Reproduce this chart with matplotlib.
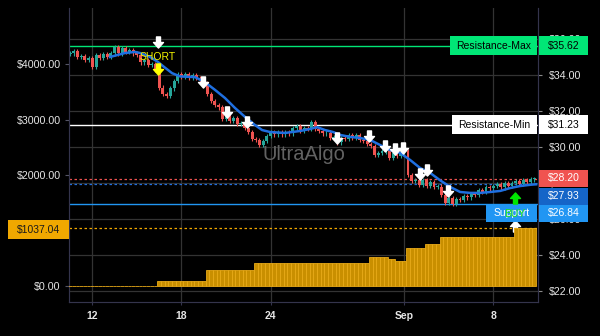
import numpy as np
import matplotlib
matplotlib.use('Agg')
import matplotlib.pyplot as plt
from matplotlib.patches import Rectangle
from matplotlib.path import Path

plt.rcParams['font.family'] = ['Liberation Sans', 'DejaVu Sans']

# closing prices, 6h bars
closes = [35.2, 35.35, 35.0, 35.05, 34.85, 34.95, 34.45, 35.1, 34.95, 35.15,
          35.0, 35.2, 35.55, 35.2, 35.5, 35.3, 35.4, 35.2, 35.1, 34.7,
          34.85, 34.55, 34.6, 34.3, 33.3, 32.95, 32.85, 33.25, 33.65, 34.05,
          33.9, 34.05, 33.85, 34.0, 33.85, 33.7, 33.55, 32.95, 32.55, 32.35,
          32.2, 31.55, 31.7, 31.45, 31.6, 31.3, 31.35, 31.05, 30.85, 30.45,
          30.4, 30.1, 30.35, 30.6, 30.85, 30.7, 30.85, 30.7, 30.85, 30.75,
          31.05, 31.15, 30.9, 31.05, 31.0, 31.4, 31.0, 30.9, 30.75, 30.8,
          30.5, 30.55, 30.25, 30.5, 30.45, 30.65, 30.5, 30.65, 30.4, 30.35,
          30.15, 30.05, 29.55, 29.65, 29.75, 29.85, 29.4, 29.65, 29.5, 29.7,
          29.75, 28.45, 28.1, 28.15, 27.9, 28.15, 27.85, 28.05, 27.8, 27.8,
          27.35, 26.9, 27.15, 26.85, 27.1, 27.05, 27.25, 27.2, 27.4, 27.35,
          27.6, 27.5, 27.75, 27.7, 27.85, 27.95, 27.75, 28.0, 27.85, 28.0,
          28.1, 27.95, 28.15, 28.05, 28.2, 28.2]
first_open = 35.15

ema_days = [1.19, 2.20, 2.88, 3.21, 3.89, 4.42, 4.90, 5.37, 5.91, 6.92,
            7.58, 8.26, 8.93, 9.60, 10.28, 10.95, 11.43, 11.97, 12.98, 13.99,
            14.66, 15.13, 15.67, 16.21, 16.68, 17.35, 18.03, 18.70, 19.37, 20.05,
            20.72, 21.39, 22.07, 22.74, 23.41, 24.09, 24.76, 25.43, 26.11, 26.78,
            27.46, 28.13, 28.79, 29.47, 29.88]
ema_vals = [35.0, 35.22, 35.28, 35.22, 35.0, 34.72, 34.4, 34.1, 33.92, 33.88,
            33.6, 33.17, 32.72, 32.17, 31.67, 31.22, 30.94, 30.83, 30.78, 30.89,
            31.0, 31.1, 30.94, 30.83, 30.67, 30.56, 30.5, 30.39, 30.11, 29.83,
            29.67, 29.28, 28.83, 28.56, 28.15, 27.78, 27.5, 27.45, 27.45, 27.5,
            27.56, 27.72, 27.83, 27.9, 27.93]

# equity steps (value, number of bars it holds)
vol_levels = [0, 90, 285, 410, 520, 480, 445, 680, 750, 875, 1037.04]
vol_counts = [24, 13, 13, 31, 5, 2, 3, 5, 4, 20, 6]

res_max = 35.62
res_min = 31.23
support = 26.84
last_price = 28.20
ema_last = 27.93
vol_last = 1037.04

sell_days = [4.42, 7.45, 9.07, 10.42, 16.48, 18.63, 19.71, 20.39, 20.93, 22.07, 22.54, 23.95]
sell_prices = [35.81, 33.61, 31.94, 31.39, 30.5, 30.61, 30.06, 29.89, 29.94, 28.5, 28.72, 27.56]
short_day, short_price = 4.42, 34.33
buy_day, buy_price = 28.46, 27.17
exit_day, exit_price = 28.46, 25.61

tick_pos = [0, 6, 12, 21, 27]
tick_labels = ['12', '18', '24', 'Sep', '8']
price_ticks = [22, 24, 26, 28, 30, 32, 34, 36]
vol_ticks = [0, 2000, 3000, 4000]

W, H = 600, 336
BG = '#000000'
GRID = '#333333'
SPINE = '#34344c'
TXT = '#e6e6e6'
UP = '#26a69a'
DOWN = '#ef5350'

fig = plt.figure(figsize=(W / 100, H / 100), dpi=100, facecolor=BG)
ax = fig.add_axes([69 / W, 34 / H, 469 / W, 294 / H], facecolor=BG)
ax2 = ax.twinx()

# price axis shown on the right, equity axis on the left
ax.yaxis.tick_right()
ax2.yaxis.tick_left()
ax.set_xlim(-1.57, 30.0)
ax.set_ylim(21.39, 37.72)
ax2.set_ylim(-288, 5009)

for a in (ax, ax2):
    a.spines['top'].set_visible(False)
    for s in ('left', 'right', 'bottom'):
        a.spines[s].set_color(SPINE)

ax.set_xticks(tick_pos)
ax.set_xticklabels(tick_labels, fontsize=7.5, fontweight='bold', color=TXT)
ax.tick_params(axis='x', length=2.5, pad=4, color=SPINE)
ax.set_yticks(price_ticks)
ax.set_yticklabels(['$%.2f' % v for v in price_ticks], fontsize=7.7, color=TXT)
ax.tick_params(axis='y', length=3, pad=5, color='#888888')
ax.grid(True, color=GRID, lw=0.9)
ax.set_axisbelow(True)

ax2.set_yticks(vol_ticks)
ax2.set_yticklabels(['$%.2f' % v for v in vol_ticks], fontsize=7.7, color=TXT)
ax2.tick_params(axis='y', length=3, pad=3, color='#555566')

# candles
closes = np.array(closes)
opens = np.concatenate([[first_open], closes[:-1]])
t = np.arange(len(closes)) * 0.25 - 1.5
cols = [UP if c >= o else DOWN for o, c in zip(opens, closes)]
hi = np.maximum(opens, closes) + 0.12
lo = np.minimum(opens, closes) - 0.12
ax.vlines(t, lo, hi, colors=cols, lw=0.8, zorder=3)
ax.bar(t, np.maximum(np.abs(closes - opens), 0.05), bottom=np.minimum(opens, closes),
       width=0.2, color=cols, zorder=3)

ax.plot(ema_days, ema_vals, color='#1f6fe0', lw=1.8, zorder=4)

# levels
ax.axhline(res_max, color='#00e676', lw=1, zorder=2)
ax.axhline(res_min, color='#ffffff', lw=1, zorder=2)
ax.axhline(support, color='#2196f3', lw=1, zorder=2)
ax.axhline(last_price, color=DOWN, lw=0.9, ls=(0, (2, 2)), zorder=2)
ax.axhline(ema_last, color='#1f6fe0', lw=0.9, ls=(0, (2, 2)), zorder=2)

# signal arrows
down = Path([(-0.18, 0.5), (0.18, 0.5), (0.18, 0.0), (0.45, 0.0), (0, -0.5),
             (-0.45, 0.0), (-0.18, 0.0), (-0.18, 0.5)], closed=True)
up = Path([(x, -y) for x, y in down.vertices], closed=True)
ax.plot(sell_days, sell_prices, ls='none', marker=down, ms=8, color='white', zorder=6)
ax.plot([short_day], [short_price], ls='none', marker=down, ms=8, color='#ffff00', zorder=6)
ax.plot([buy_day], [buy_price], ls='none', marker=up, ms=8, color='#00e600', zorder=6)
ax.plot([exit_day], [exit_price], ls='none', marker=up, ms=8, color='white', zorder=6)
ax.text(short_day, 35.0, 'SHORT', color='#f5f500', fontsize=7.5, ha='center', va='center', zorder=6)

ax.text(0.5, 0.5, 'UltraAlgo', transform=ax.transAxes, fontsize=14.5, color='#626262',
        ha='center', va='center', zorder=1)

# equity bars
vol = np.repeat(vol_levels, vol_counts)
ax2.bar(t, vol, width=0.25, color='#c98f00', edgecolor='#e8aa18', lw=0.6, zorder=3)
ax2.axhline(vol_last, color='#f0a800', lw=0.9, ls=(0, (2, 2)), zorder=2)


def tag(axis, val, txt, bg, fg, x0, x1, dy=0, h=18):
    # coloured value box outside the plot, placed at the value's height
    yc = axis.transData.transform((0, val))[1] - dy
    fig.add_artist(Rectangle((x0 / W, (yc - h / 2) / H), (x1 - x0) / W, h / H,
                             transform=fig.transFigure, color=bg, lw=0, zorder=5))
    fig.text((x0 + x1) / 2 / W, yc / H, txt, color=fg, fontsize=7.5,
             ha='center', va='center', zorder=6)


tag(ax, res_max, 'Resistance-Max', '#00e676', '#000000', 450, 537, h=19)
tag(ax, res_max, '$%.2f' % res_max, '#00e676', '#000000', 539, 588, h=19)
tag(ax, res_min, 'Resistance-Min', '#ffffff', '#000000', 452, 537, h=19)
tag(ax, res_min, '$%.2f' % res_min, '#ffffff', '#000000', 539, 588, h=19)
tag(ax, last_price, '$%.2f' % last_price, '#f05350', '#ffffff', 539, 588, dy=-1, h=17)
tag(ax, ema_last, '$%.2f' % ema_last, '#1565c8', '#ffffff', 539, 588, dy=12, h=17)
tag(ax, support, 'Support', '#2196f3', '#ffffff', 486, 537, dy=9.5, h=17)
tag(ax, support, '$%.2f' % support, '#2196f3', '#ffffff', 539, 588, dy=9.5, h=17)
tag(ax2, vol_last, '$%.2f' % vol_last, '#f0a800', '#1a1a1a', 8, 69, dy=1.5, h=19)

fig.text(buy_day, 26.3, 'BUY', transform=ax.transData, color='#1ee61e', fontsize=7.5,
         ha='center', va='center', zorder=7)

fig.savefig('out.png', dpi=100, facecolor=BG)
